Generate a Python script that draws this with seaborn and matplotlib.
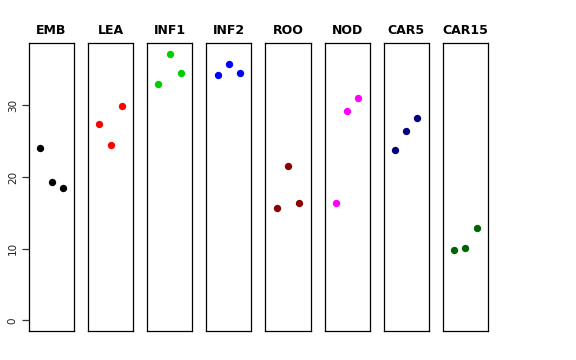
import matplotlib
matplotlib.use("Agg")
import matplotlib.pyplot as plt
import numpy as np
import pandas as pd
import seaborn as sns

# tissues and their three replicate values
tissues = ["EMB", "LEA", "INF1", "INF2", "ROO", "NOD", "CAR5", "CAR15"]
emb = [24.05, 19.3, 18.4]
lea = [27.35, 24.5, 29.9]
inf1 = [32.9, 37.2, 34.5]
inf2 = [34.2, 35.8, 34.55]
roo = [15.7, 21.5, 16.4]
nod = [16.3, 29.25, 31.0]
car5 = [23.7, 26.4, 28.2]
car15 = [9.8, 10.15, 12.85]
colors = ["black", "red", "#00CD00", "blue", "#8B0000", "magenta", "#000080", "#006400"]
rep = [1, 2, 3]
yticks = [0, 10, 20, 30]

values = [emb, lea, inf1, inf2, roo, nod, car5, car15]
df = pd.DataFrame({
    "tissue": np.repeat(tissues, 3),
    "rep": rep * len(tissues),
    "value": np.concatenate(values),
})

sns.set_style("white")
fig, axes = plt.subplots(1, 8, figsize=(5.76, 3.6), dpi=100, sharey=True)
fig.subplots_adjust(left=0.0503, right=0.847, bottom=0.0806, top=0.8806, wspace=0.31)

ymax = df["value"].max()
pad = ymax * 0.04
for ax, t, c in zip(axes, tissues, colors):
    sub = df[df["tissue"] == t]
    sns.scatterplot(data=sub, x="rep", y="value", color=c, s=28, edgecolor=c,
                    linewidth=0, ax=ax)
    ax.set_xlim(0, 4)
    ax.set_ylim(-pad, ymax + pad)
    ax.set_xticks([])
    ax.set_xlabel("")
    ax.set_ylabel("")
    ax.set_title(t, fontsize=9, fontweight="bold", color="black", pad=6.5)
    for s in ax.spines.values():
        s.set_visible(True)
        s.set_color("black")
        s.set_linewidth(0.9)
    ax.tick_params(axis="y", left=False, labelleft=False)

axes[0].set_yticks(yticks)
axes[0].tick_params(axis="y", left=True, labelleft=True, length=5, width=0.9,
                    color="#333333", labelsize=7.5, labelcolor="#222222", pad=3)
for lab in axes[0].get_yticklabels():
    lab.set_rotation(90)
    lab.set_va("center")

fig.savefig("out.png", dpi=100)
